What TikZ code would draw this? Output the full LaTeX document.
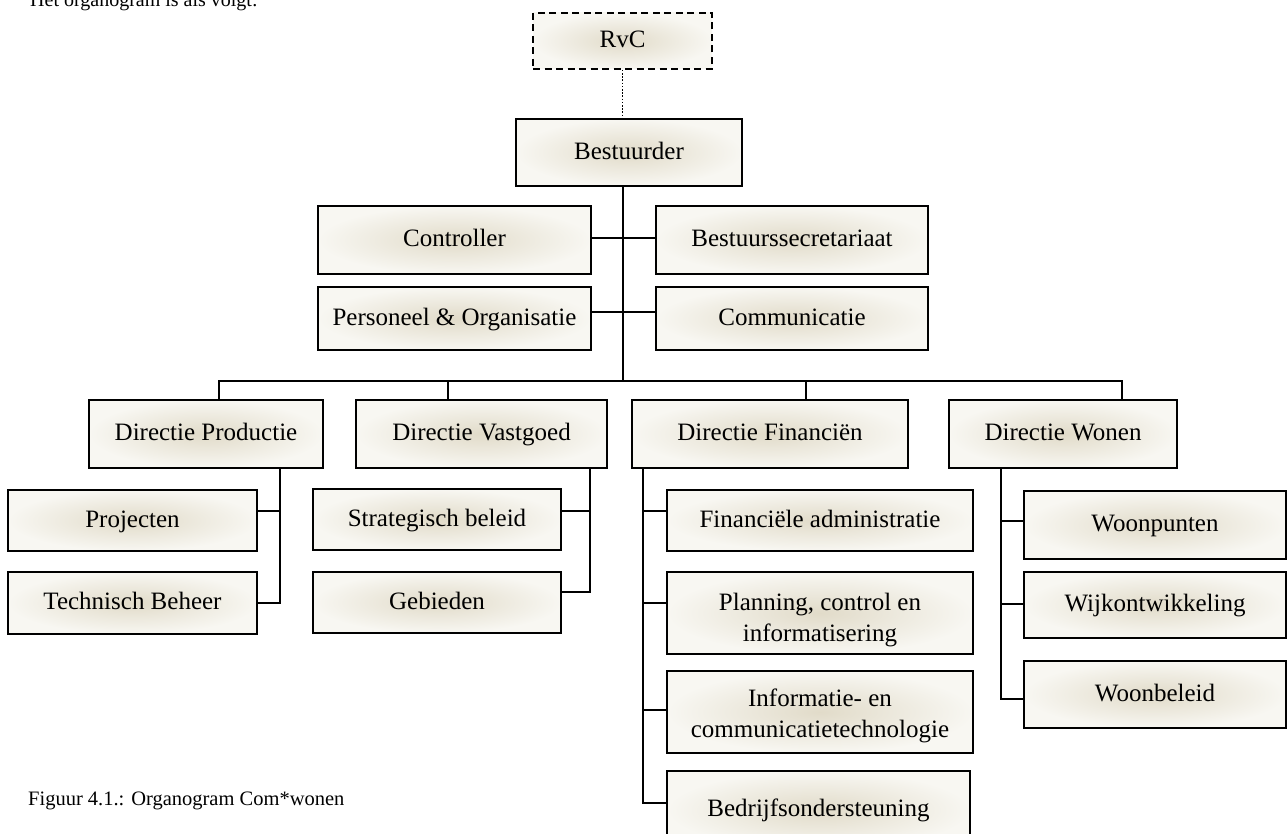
\documentclass[tikz,border=0pt]{standalone}
\usepackage{fontspec}
\setmainfont{Liberation Serif}
\usetikzlibrary{calc}
\definecolor{glow}{RGB}{225,219,201}
\definecolor{paper}{RGB}{248,247,242}
\begin{document}
\begin{tikzpicture}[x=1pt,y=-1pt,
  unit/.style={draw=black, line width=1.8pt, shading=radial,
    inner color=glow, outer color=paper, inner sep=0pt, align=center,
    text height=19pt, text depth=5.5pt,
    font=\fontsize{25}{31}\selectfont},
  ub/.style 2 args={unit, minimum width=#1pt, minimum height=#2pt},
  twoline/.style={inner sep=0pt, align=center, font=\fontsize{25}{31}\selectfont},
  link/.style={draw=black, line width=1.8pt, line join=miter},
  thin link/.style={draw=black, line width=0.9pt, dash pattern=on 1.6pt off 1.6pt}]

\useasboundingbox (0,0) rectangle (1287,834);

% intro sentence and caption
\node[anchor=base west, inner sep=0pt, font=\fontsize{20}{24}\selectfont] (intro) at (30,7) {Het organogram is als volgt:};
\node[anchor=base west, inner sep=0pt, font=\fontsize{20.5}{24}\selectfont] (caption) at (28,805) {Figuur 4.1.: Organogram Com*wonen};

% top of the organisation
\node[ub={179}{56}, dash pattern=on 7pt off 4.5pt] (rvc) at (622.5,41) {RvC};
\node[ub={226}{67}] (best) at (629,152.5) {Bestuurder};

% staff units
\node[ub={273}{68}] (ctrl) at (454.5,240) {Controller};
\node[ub={273}{63}] (po) at (454.5,318.5) {Personeel \& Organisatie};
\node[ub={272}{68}] (bsec) at (792,240) {Bestuurssecretariaat};
\node[ub={272}{63}] (comm) at (792,318.5) {Communicatie};

% directorates
\node[ub={234}{68}] (dprod) at (206,434) {Directie Productie};
\node[ub={251}{68}] (dvast) at (481.5,434) {Directie Vastgoed};
\node[ub={276}{68}] (dfin) at (770,434) {Directie Financiën};
\node[ub={228}{68}] (dwon) at (1063,434) {Directie Wonen};

% departments
\node[ub={249}{61}] (proj) at (132.5,520.5) {Projecten};
\node[ub={249}{62}] (tech) at (132.5,603) {Technisch Beheer};
\node[ub={248}{61}] (strat) at (437,519.5) {Strategisch beleid};
\node[ub={248}{61}] (geb) at (437,602.5) {Gebieden};
\node[ub={306}{61}] (fadm) at (820,520.5) {Financiële administratie};
\node[ub={306}{82}] (plan) at (820,613) {};
\node[twoline] (plantext) at ($(plan.center)+(0,7)$) {Planning, control en\\informatisering};
\node[ub={306}{82}] (ict) at (820,712) {};
\node[twoline] (icttext) at ($(ict.center)+(0,4)$) {Informatie- en\\communicatietechnologie};
\node[ub={303}{78}] (bedr) at (818.5,810) {Bedrijfsondersteuning};
\node[ub={262}{68}] (wpunt) at (1155,525) {Woonpunten};
\node[ub={262}{66}] (wijk) at (1155,605) {Wijkontwikkeling};
\node[ub={262}{67}] (wbel) at (1155,694.5) {Woonbeleid};

% junction points
\coordinate (bus) at (623,381);
\coordinate (s1) at (623,238);
\coordinate (s2) at (623,312);
\coordinate (b1) at (219,381);
\coordinate (b2) at (448,381);
\coordinate (b3) at (806,381);
\coordinate (b4) at (1122,381);
\coordinate (p1) at (280,511);
\coordinate (p2) at (280,603);
\coordinate (v1) at (590,511);
\coordinate (v2) at (590,592);
\coordinate (f1) at (643,511);
\coordinate (f2) at (643,603);
\coordinate (f3) at (643,710);
\coordinate (f4) at (643,803);
\coordinate (w1) at (1001,521);
\coordinate (w2) at (1001,604);
\coordinate (w3) at (1001,699);

% supervisory board
\draw[thin link] (rvc.south) -- (rvc.south |- best.north);

% main trunk and staff links
\draw[link] (best.south -| bus) -- (bus);
\draw[link] (ctrl.east |- s1) -- (bsec.west |- s1);
\draw[link] (po.east |- s2) -- (comm.west |- s2);

% bus to the directorates
\draw[link] (dprod.north -| b1) -- (b1) -- (b4) -- (dwon.north -| b4);
\draw[link] (b2) -- (dvast.north -| b2);
\draw[link] (b3) -- (dfin.north -| b3);

% Productie
\draw[link] (dprod.south -| p1) -- (p2) -- (tech.east |- p2);
\draw[link] (proj.east |- p1) -- (p1);

% Vastgoed
\draw[link] (dvast.south -| v1) -- (v2) -- (geb.east |- v2);
\draw[link] (strat.east |- v1) -- (v1);

% Financien
\draw[link] (dfin.south -| f1) -- (f4) -- (bedr.west |- f4);
\draw[link] (f1) -- (fadm.west |- f1);
\draw[link] (f2) -- (plan.west |- f2);
\draw[link] (f3) -- (ict.west |- f3);

% Wonen
\draw[link] (dwon.south -| w1) -- (w3) -- (wbel.west |- w3);
\draw[link] (w1) -- (wpunt.west |- w1);
\draw[link] (w2) -- (wijk.west |- w2);
\end{tikzpicture}
\end{document}
